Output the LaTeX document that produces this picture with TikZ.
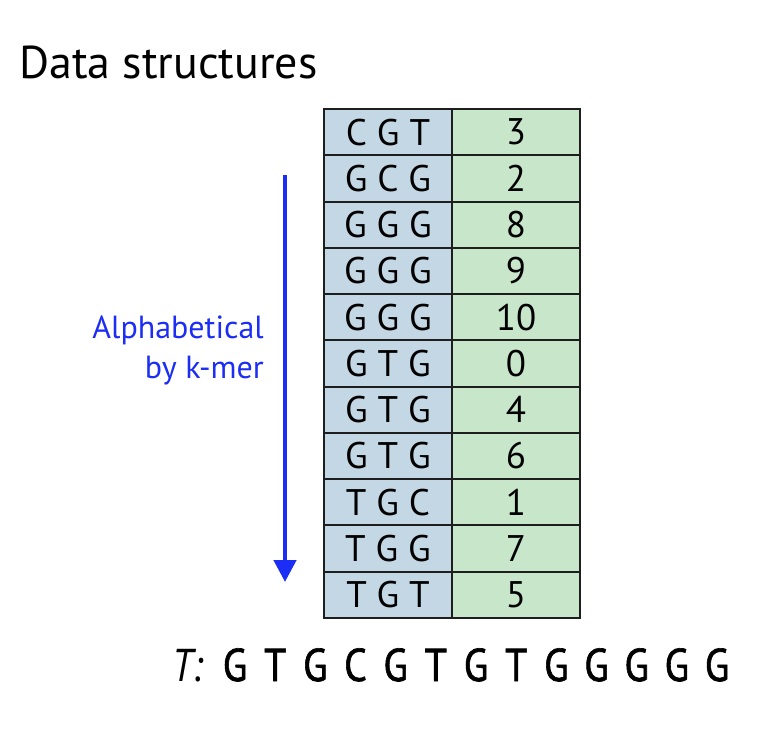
\documentclass[tikz,border=0pt]{standalone}
\usepackage{fontspec}
\setmainfont{PT Sans}
\newfontfamily\seqfont[FakeBold=1.4]{PT Sans}
\usepackage{tikz}
\usetikzlibrary{arrows.meta,positioning}
\definecolor{kmerblue}{RGB}{196,215,229}
\definecolor{posgreen}{RGB}{200,230,201}
\definecolor{sortblue}{RGB}{28,46,245}
\definecolor{gridline}{RGB}{30,30,30}
\begin{document}
\begin{tikzpicture}[x=1pt,y=-1pt,
    cell/.style={draw=gridline,line width=2pt,inner sep=0,outer sep=0,minimum width=128pt,minimum height=46.27pt,anchor=north west,font=\fontsize{37}{37}\selectfont},
    kmercell/.style={cell,fill=kmerblue},
    poscell/.style={cell,fill=posgreen},
    sortarrow/.style={draw=sortblue,line width=4.5pt,-{Triangle[width=22pt,length=22pt]}},
    letter/.style={anchor=base,inner sep=0,xscale=0.87,font=\fontsize{46}{46}\seqfont}]
    \useasboundingbox (0,0) rectangle (783,736);
    \node[anchor=base west,inner sep=0,font=\fontsize{46}{46}\selectfont] (title) at (19,78) {Data structures};
    \foreach \km/\pos [count=\i] in {C G T/3,G C G/2,G G G/8,G G G/9,G G G/10,G T G/0,G T G/4,G T G/6,T G C/1,T G G/7,T G T/5} {
      \node[kmercell] (k\i) at (324,{109+46.27*(\i-1)}) {\km};
      \node[poscell] (p\i) at (452,{109+46.27*(\i-1)}) {\pos};
    }
    \coordinate (atop) at (285,175);
    \coordinate (abot) at (285,582);
    \draw[sortarrow] (atop) -- (abot);
    \node[anchor=base east,align=right,inner sep=0,text=sortblue,font=\fontsize{32}{40}\selectfont] (sortlbl) at (264,378) {Alphabetical\\by k-mer};
    \node[anchor=base west,inner sep=0,xscale=0.85,font=\fontsize{46}{46}\selectfont\itshape] (tlab) at (172,681) {T:};
    \foreach \b [count=\i] in {G,T,G,C,G,T,G,T,G,G,G,G,G}
      \node[letter] (t\i) at ({235+40.17*(\i-1)},681) {\b};
\end{tikzpicture}
\end{document}
